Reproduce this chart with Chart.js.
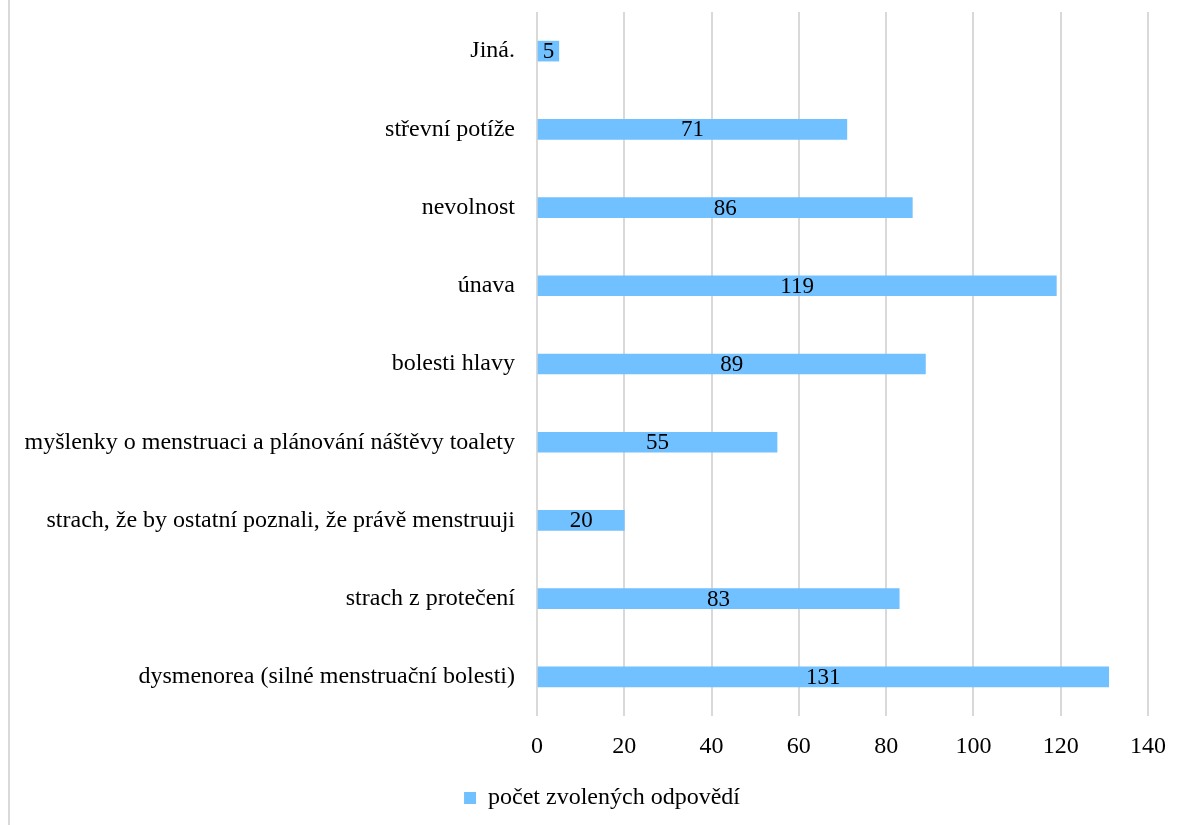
<!DOCTYPE html>
<html>
<head>
<meta charset="utf-8">
<script src="https://cdn.jsdelivr.net/npm/chart.js@4/dist/chart.umd.min.js"></script>
<style>
  body { margin: 0; background: #fff; }
  #obal { position: relative; width: 1184px; height: 825px; }
  #okraj { position: absolute; left: 8px; top: 0; width: 2px; height: 825px; background: #d9d9d9; }
</style>
</head>
<body>
<div id="obal">
  <canvas id="graf" width="1184" height="825"></canvas>
  <div id="okraj"></div>
</div>
<script>
const kategorie = [
    'Jiná.',
    'střevní potíže',
    'nevolnost',
    'únava',
    'bolesti hlavy',
    'myšlenky o menstruaci a plánování náštěvy toalety',
    'strach, že by ostatní poznali, že právě menstruuji',
    'strach z protečení',
    'dysmenorea (silné menstruační bolesti)'
];
const pocty = [5, 71, 86, 119, 89, 55, 20, 83, 131];
const nazevRady = 'počet zvolených odpovědí';
const osaMin = 0;
const osaMax = 140;
const osaKrok = 20;

const pismo = "'Liberation Serif', 'Times New Roman', serif";
const barvaSloupce = '#71c0ff';

// popisky hodnot uprostred sloupcu
const popiskyHodnot = {
    id: 'popiskyHodnot',
    afterDatasetsDraw(chart) {
        const ctx = chart.ctx;
        const meta = chart.getDatasetMeta(0);
        ctx.save();
        ctx.font = '23px ' + pismo;
        ctx.fillStyle = '#000';
        ctx.textAlign = 'center';
        ctx.textBaseline = 'middle';
        meta.data.forEach((sloupec, i) => {
            let stred = (sloupec.x + sloupec.base) / 2;
            ctx.fillText(String(pocty[i]), stred, sloupec.y + 1);
        });
        ctx.restore();
    }
};

// legenda trochu doprava, jako v puvodnim grafu
const posunLegendy = {
    id: 'posunLegendy',
    afterLayout(chart) {
        chart.legend.left += 28;
        chart.legend.right += 28;
    }
};

let elementoDOM = document.getElementById('graf').getContext('2d');
let grafico = new Chart(elementoDOM, {
    type: 'bar',
    data: {
        labels: kategorie,
        datasets: [{
            label: nazevRady,
            data: pocty,
            backgroundColor: barvaSloupce,
            borderWidth: 0,
            barThickness: 20
        }]
    },
    options: {
        indexAxis: 'y',
        responsive: false,
        animation: false,
        layout: {
            padding: { top: 12, right: 36, bottom: 5, left: 0 }
        },
        plugins: {
            legend: {
                position: 'bottom',
                labels: {
                    boxWidth: 12,
                    boxHeight: 12,
                    padding: 16,
                    color: '#000',
                    font: { family: pismo, size: 24 }
                }
            },
            tooltip: { enabled: false }
        },
        scales: {
            x: {
                min: osaMin,
                max: osaMax,
                ticks: {
                    stepSize: osaKrok,
                    color: '#000',
                    padding: 16,
                    font: { family: pismo, size: 24 }
                },
                grid: {
                    color: '#d9d9d9',
                    lineWidth: 2,
                    drawTicks: false
                },
                border: { display: false },
                afterFit(scale) {
                    scale.height = 54;
                    scale.paddingLeft = 0;
                    scale.paddingRight = 0;
                }
            },
            y: {
                ticks: {
                    color: '#000',
                    padding: 14,
                    font: { family: pismo, size: 24 }
                },
                grid: { display: false },
                border: { display: false },
                afterFit(scale) {
                    scale.width = 537;
                    scale.paddingTop = 0;
                    scale.paddingBottom = 0;
                }
            }
        }
    },
    plugins: [popiskyHodnot, posunLegendy]
});
</script>
</body>
</html>
